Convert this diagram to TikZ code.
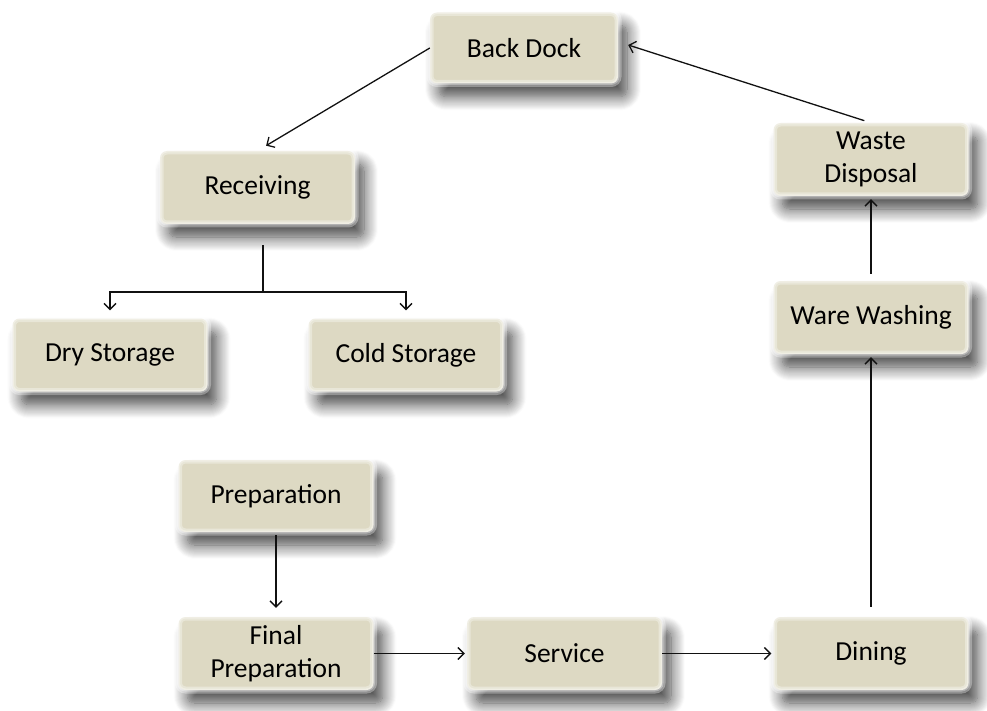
\documentclass[tikz,border=0pt]{standalone}
\usepackage{fontspec}
\setmainfont{Carlito}
\usetikzlibrary{arrows.meta,shadows.blur}
\definecolor{boxfill}{HTML}{DDD9C3}
\definecolor{inkline}{HTML}{111111}
\tikzset{
  procbox/.style={
    rounded corners=7pt, minimum width=195pt, minimum height=73pt,
    inner sep=2pt, align=center, fill=boxfill,
    font=\fontsize{27.5}{33}\selectfont, text=black,
    blur shadow={shadow xshift=9pt, shadow yshift=-13pt,
                 shadow blur radius=14pt, shadow blur steps=14,
                 shadow blur extra rounding=5pt, shadow opacity=75},
    postaction={draw=white, draw opacity=0.35, line width=7pt},
    postaction={draw=white, draw opacity=0.35, line width=3pt}
  },
  flow/.style={draw=inkline, line width=1.3pt,
    -{Straight Barb[length=6pt,width=12pt,line width=1.3pt]}}
}
\begin{document}
\begin{tikzpicture}[x=1pt,y=-1pt]
  \useasboundingbox (0,0) rectangle (987,711);

  % process boxes
  \node[procbox, minimum width=188pt, minimum height=71pt] (bd) at (524,48) {Back Dock};
  \node[procbox] (rc) at (257.5,187.5) {Receiving};
  \node[procbox] (ds) at (110,355) {Dry Storage};
  \node[procbox] (cs) at (406,355) {Cold Storage};
  \node[procbox, minimum height=72pt] (pr) at (276,496) {Preparation};
  \node[procbox] (fp) at (276,653.5) {Final\\Preparation};
  \node[procbox] (sv) at (564.5,653.5) {Service};
  \node[procbox] (dn) at (871,653.5) {Dining};
  \node[procbox] (ww) at (871,317.5) {Ware Washing};
  \node[procbox] (wd) at (871,159.5) {Waste\\Disposal};

  % fork below Receiving
  \coordinate (fk) at (263,292);
  \draw[draw=inkline, line width=1.3pt] (rc.south -| fk) ++(0,21) -- (fk);
  \draw[flow] (fk) -| ([yshift=8pt]ds.north);
  \draw[flow] (fk) -| ([yshift=8pt]cs.north);

  % main flow
  \draw[flow, shorten >=10pt] (bd.west) -- (rc.north);
  \draw[flow, shorten <=3pt, shorten >=9pt] (pr.south) -- (fp.north);
  \draw[flow, shorten >=2pt] (fp.east) -- (sv.west);
  \draw[flow, shorten >=2pt] (sv.east) -- (dn.west);
  \draw[flow, shorten <=10pt, shorten >=3pt] (dn.north) -- (ww.south);
  \draw[flow, shorten <=7pt, shorten >=3pt] (ww.north) -- (wd.south);
  \draw[flow, shorten <=7pt] (wd.north) -- ([xshift=10pt,yshift=3pt]bd.east);
\end{tikzpicture}
\end{document}
